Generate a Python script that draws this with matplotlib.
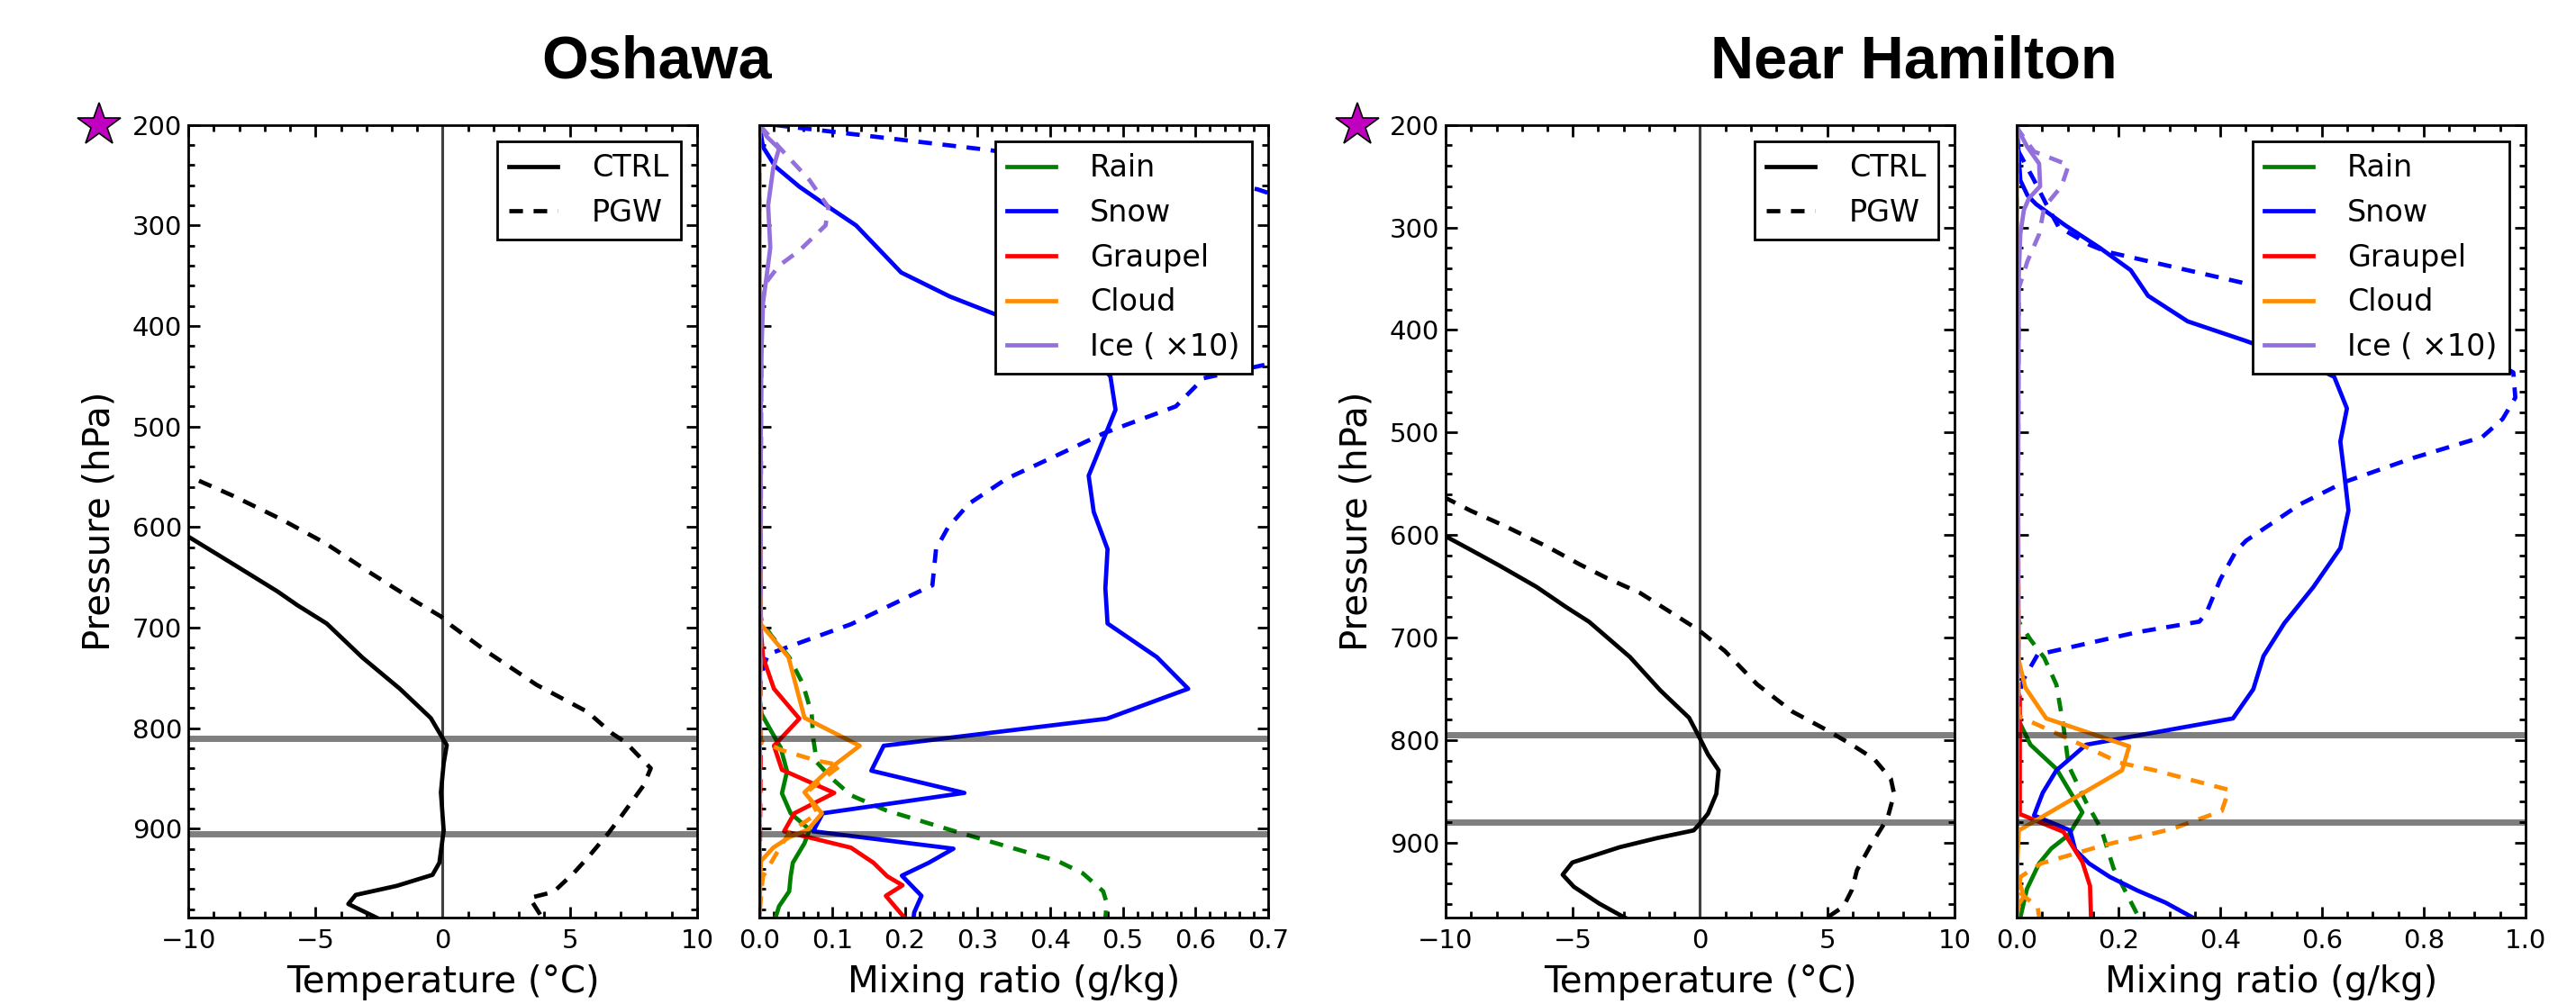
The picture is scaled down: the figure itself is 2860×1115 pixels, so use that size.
import matplotlib
matplotlib.use('Agg')
import matplotlib.pyplot as plt
from matplotlib.ticker import MultipleLocator

# ---------------- Oshawa ----------------
osh_ctrl_p = [560, 608, 639, 664, 678, 696, 730, 761, 790, 817, 835, 864, 902, 934, 946, 957, 966, 975, 988.5]
osh_ctrl_t = [-13.2, -10.1, -8.1, -6.5, -5.7, -4.56, -3.15, -1.68, -0.47, 0.16, 0.04, -0.07, 0.04, -0.13, -0.4, -1.81, -3.42, -3.71, -2.61]
osh_pgw_p = [554, 569, 592, 616, 645, 675, 689, 698, 723, 757, 784, 805, 814, 840, 857, 887, 905, 929, 944, 963, 969, 985, 988.5]
osh_pgw_t = [-9.58, -8.24, -6.37, -4.62, -2.88, -1.0, -0.07, 0.34, 1.68, 3.69, 5.7, 6.64, 7.18, 8.18, 7.9, 7.04, 6.5, 5.7, 5.16, 4.36, 3.42, 3.82, 3.9]
osh_layers = [810, 905]
osh_pmax = 988.5

# mixing ratios (g/kg); ice already multiplied by 10
osh_snow_ctrl_p = [200, 222, 241.5, 261.5, 283, 300, 346.8, 370.7, 386, 410, 430, 450.4, 483.3, 549, 585, 622, 661, 696,
                   729.5, 760.9, 790.7, 817.6, 842.4, 864.5, 884.8, 902.7, 920, 934, 946.8, 966.9, 983.3, 989]
osh_snow_ctrl = [0.0, 0.005, 0.022, 0.055, 0.098, 0.133, 0.195, 0.262, 0.316, 0.40, 0.46, 0.483, 0.49, 0.453, 0.46, 0.479,
                 0.476, 0.479, 0.547, 0.59, 0.478, 0.171, 0.154, 0.282, 0.087, 0.074, 0.267, 0.233, 0.196, 0.223, 0.213, 0.212]
osh_snow_pgw_p = [200, 225, 264, 275, 330, 380, 430, 452, 480, 498, 507, 529.5, 552, 577, 601, 622, 658, 662, 696.7,
                  717.6, 726.6, 740, 750.4, 760, 989]
osh_snow_pgw = [0.02, 0.316, 0.685, 0.73, 0.85, 0.9, 0.75, 0.611, 0.573, 0.506, 0.473, 0.407, 0.34, 0.288, 0.259, 0.243,
                0.238, 0.226, 0.126, 0.046, 0.012, 0.005, 0.003, 0.0, 0.0]
osh_rain_ctrl_p = [770, 786, 804, 819, 843, 865, 884.8, 901, 914.6, 934, 947.5, 962.4, 977.3, 989]
osh_rain_ctrl = [0.0, 0.003, 0.017, 0.029, 0.038, 0.031, 0.043, 0.069, 0.062, 0.046, 0.043, 0.041, 0.027, 0.022]
osh_rain_pgw_p = [680, 694, 708.6, 729.5, 756.4, 786.3, 810, 834, 849, 866.9, 881.8, 902.7, 917.6, 932.5, 944.5, 962.4, 974.3, 989]
osh_rain_pgw = [0.0, 0.003, 0.017, 0.041, 0.06, 0.072, 0.074, 0.079, 0.098, 0.126, 0.174, 0.269, 0.34, 0.411, 0.445, 0.473, 0.478, 0.476]
osh_grau_ctrl_p = [690, 702.7, 729.5, 760.9, 790.7, 817.6, 841.5, 864.5, 884.8, 902.7, 919, 934, 947.5, 956.4, 966.9, 989]
osh_grau_ctrl = [0.0, 0.002, 0.005, 0.02, 0.055, 0.02, 0.031, 0.103, 0.048, 0.034, 0.126, 0.157, 0.176, 0.197, 0.174, 0.2]
osh_grau_pgw_p = [200, 600, 800, 989]
osh_grau_pgw = [0.0, 0.001, 0.002, 0.0]
osh_cloud_ctrl_p = [200, 696.7, 729.5, 789.8, 817.6, 838.5, 863.9, 884.8, 901, 908.6, 919, 932.5, 989]
osh_cloud_ctrl = [0.0, 0.002, 0.04, 0.062, 0.138, 0.1, 0.062, 0.086, 0.067, 0.041, 0.019, 0.002, 0.0]
osh_cloud_pgw_p = [200, 813, 822, 832.5, 837, 847.4, 863.9, 884.8, 904, 926.5, 947.5, 959.4, 989]
osh_cloud_pgw = [0.0, 0.002, 0.031, 0.079, 0.112, 0.093, 0.065, 0.08, 0.041, 0.022, 0.005, 0.003, 0.0]
osh_ice_ctrl_p = [200, 211.6, 223.6, 243, 280, 322, 350, 377, 422, 482, 989]
osh_ice_ctrl = [0.0, 0.01, 0.027, 0.019, 0.012, 0.015, 0.01, 0.005, 0.003, 0.002, 0.0]
osh_ice_pgw_p = [200, 222, 255, 282, 300, 325, 340, 356, 377, 989]
osh_ice_pgw = [0.0, 0.027, 0.069, 0.095, 0.091, 0.055, 0.027, 0.01, 0.003, 0.0]

# ---------------- Near Hamilton ----------------
ham_ctrl_p = [580, 601.5, 613.4, 629.7, 650.5, 669.8, 684.6, 718.8, 751.5, 778.2, 799, 813.8, 829.3, 852.4, 871.8, 882.1,
              888, 895.5, 904.4, 919.3, 931.2, 943, 959.4, 971.3, 975]
ham_ctrl_t = [-12.5, -9.98, -9.09, -7.89, -6.43, -5.29, -4.36, -2.76, -1.56, -0.43, 0.01, 0.31, 0.73, 0.64, 0.31, -0.03,
              -0.25, -1.69, -3.16, -5.02, -5.4, -4.96, -3.96, -3.09, -2.8]
ham_pgw_p = [555, 564.4, 576.2, 591, 611.9, 628.2, 641.6, 656.4, 677.2, 692, 712.9, 745.5, 772.3, 790, 803.4, 818.3,
             837.6, 852.4, 876.2, 903, 926.7, 946, 962.3, 971.3, 975]
ham_pgw_t = [-11.0, -9.95, -9.02, -7.69, -5.96, -4.76, -3.69, -2.36, -1.03, -0.09, 0.97, 2.24, 3.64, 4.97, 5.9, 6.84,
             7.5, 7.63, 7.37, 6.7, 6.17, 5.97, 5.64, 5.1, 4.8]
ham_layers = [795, 880]
ham_pmax = 973

ham_snow_ctrl_p = [200, 230.5, 254, 268.6, 277.3, 297.8, 319.8, 341.7, 366.6, 391.6, 410.6, 425, 440, 445.7, 476.5,
                   508.8, 541, 576, 612.7, 650.7, 685.9, 718, 750.3, 778.8, 804.5, 819.2, 829.4, 851.4, 873.4, 888,
                   907, 920.2, 933.4, 946.6, 958.3, 973]
ham_snow_ctrl = [0.0, 0.004, 0.007, 0.021, 0.038, 0.095, 0.163, 0.224, 0.258, 0.336, 0.45, 0.53, 0.6, 0.624, 0.649,
                 0.636, 0.644, 0.652, 0.636, 0.583, 0.526, 0.485, 0.465, 0.425, 0.136, 0.102, 0.078, 0.051, 0.034, 0.105,
                 0.115, 0.142, 0.183, 0.237, 0.292, 0.346]
ham_snow_pgw_p = [224.6, 253.9, 277.3, 299.3, 316.9, 323.6, 353.5, 390, 420, 441.4, 466, 486.8, 504.4, 524.8, 548.3,
                  570.2, 590.7, 605.4, 615.6, 643.4, 675.6, 684.4, 694.7, 716.6, 740, 754.7, 765, 973]
ham_snow_pgw = [0.002, 0.034, 0.058, 0.082, 0.143, 0.176, 0.44, 0.7, 0.9, 0.976, 0.98, 0.955, 0.915, 0.779, 0.644,
                0.556, 0.495, 0.451, 0.431, 0.4, 0.373, 0.359, 0.237, 0.041, 0.014, 0.004, 0.0, 0.0]
ham_rain_ctrl_p = [770, 781, 804.5, 828, 870.4, 892.4, 905.6, 920.2, 945.1, 973]
ham_rain_ctrl = [0.0, 0.004, 0.027, 0.078, 0.129, 0.102, 0.068, 0.044, 0.02, 0.007]
ham_rain_pgw_p = [675, 684.4, 702, 719.6, 746, 787, 825, 860.2, 886.5, 924.6, 970, 973]
ham_rain_pgw = [0.0, 0.004, 0.027, 0.054, 0.078, 0.092, 0.102, 0.136, 0.166, 0.19, 0.237, 0.24]
ham_grau_ctrl_p = [750, 757.6, 804.5, 872, 889.5, 918.8, 942.2, 973]
ham_grau_ctrl = [0.0, 0.006, 0.006, 0.006, 0.092, 0.129, 0.144, 0.146]
ham_grau_pgw_p = [200, 600, 850, 973]
ham_grau_pgw = [0.0, 0.001, 0.002, 0.0]
ham_cloud_ctrl_p = [200, 722.5, 748.9, 778.8, 806, 829.4, 888, 930, 952.4, 960, 973]
ham_cloud_ctrl = [0.0, 0.004, 0.017, 0.058, 0.221, 0.207, 0.004, 0.0, 0.014, 0.004, 0.0]
ham_cloud_pgw_p = [200, 776.7, 798.7, 822.1, 829.4, 848.5, 869, 886.6, 902.7, 920.2, 933.4, 948, 962.7, 973]
ham_cloud_pgw = [0.0, 0.004, 0.102, 0.203, 0.271, 0.417, 0.403, 0.305, 0.169, 0.048, 0.007, 0.004, 0.041, 0.044]
ham_ice_ctrl_p = [200, 204, 221.7, 237.8, 259.8, 271.5, 283, 306.5, 347.6, 973]
ham_ice_ctrl = [0.0, 0.002, 0.021, 0.044, 0.046, 0.024, 0.014, 0.007, 0.004, 0.0]
ham_ice_pgw_p = [200, 204, 226, 239.2, 259.8, 280.3, 306.6, 333, 359.4, 973]
ham_ice_pgw = [0.0, 0.002, 0.034, 0.102, 0.088, 0.054, 0.044, 0.021, 0.004, 0.0]

species = ['Rain', 'Snow', 'Graupel', 'Cloud', 'Ice ( ×10)']
colors = ['g', 'b', 'r', 'darkorange', 'mediumpurple']

plt.rcParams['font.family'] = 'DejaVu Sans'
plt.rcParams['axes.linewidth'] = 1.0
LW = 1.7
DASH = (0, (3.2, 2.5))


def style_axes(ax, xmajor, xminor, pmax, ylabels=True):
    ax.set_ylim(pmax, 200)
    ax.xaxis.set_major_locator(MultipleLocator(xmajor))
    ax.xaxis.set_minor_locator(MultipleLocator(xminor))
    ax.yaxis.set_major_locator(MultipleLocator(100))
    ax.yaxis.set_minor_locator(MultipleLocator(20))
    ax.tick_params(which='both', direction='in', top=True, right=True, width=1.0, labelsize=10.5)
    ax.tick_params(which='major', length=4.5)
    ax.tick_params(which='minor', length=2.5)
    ax.tick_params(axis='x', pad=4.5)
    ax.tick_params(axis='y', pad=2.5, labelleft=ylabels)


def legend(ax, loc='upper right'):
    leg = ax.legend(loc=loc, fontsize=12, fancybox=False, framealpha=1, edgecolor='k',
                    handlelength=1.6, handletextpad=1.15, borderpad=0.4, labelspacing=0.5,
                    borderaxespad=0.55)
    leg.get_frame().set_linewidth(1.0)


def temp_panel(ax, ctrl_p, ctrl_t, pgw_p, pgw_t, layers, pmax):
    ax.axvline(0, color='0.25', lw=1.1)
    ax.plot(ctrl_t, ctrl_p, color='k', lw=LW, label='CTRL')
    ax.plot(pgw_t, pgw_p, color='k', lw=LW, ls=DASH, label='PGW')
    for p in layers:
        ax.axhline(p, color='k', alpha=0.5, lw=2.5)
    ax.set_xlim(-10, 10)
    style_axes(ax, 5, 1, pmax)
    ax.set_xlabel('Temperature (°C)', fontsize=14.5)
    ax.set_ylabel('Pressure (hPa)', fontsize=14.5, labelpad=6)
    legend(ax)


def mix_panel(ax, ctrl, pgw, layers, pmax, xmax, xmajor, xminor):
    for (cp, cq), (gp, gq), name, c in zip(ctrl, pgw, species, colors):
        ax.plot(cq, cp, color=c, lw=LW, label=name)
        ax.plot(gq, gp, color=c, lw=LW, ls=DASH)
    for p in layers:
        ax.axhline(p, color='k', alpha=0.5, lw=2.5)
    ax.set_xlim(0, xmax)
    style_axes(ax, xmajor, xminor, pmax, ylabels=False)
    ax.set_xlabel('Mixing ratio (g/kg)', fontsize=14.5)
    legend(ax)


fig = plt.figure(figsize=(14.3, 5.575), dpi=200)
bot, hgt, wid = 0.0861, 0.7895, 0.1975
ax1 = fig.add_axes([0.0731, bot, wid, hgt])
ax2 = fig.add_axes([0.2948, bot, wid, hgt])
ax3 = fig.add_axes([0.5612, bot, wid, hgt])
ax4 = fig.add_axes([0.7829, bot, wid, hgt])

temp_panel(ax1, osh_ctrl_p, osh_ctrl_t, osh_pgw_p, osh_pgw_t, osh_layers, osh_pmax)
mix_panel(ax2,
          [(osh_rain_ctrl_p, osh_rain_ctrl), (osh_snow_ctrl_p, osh_snow_ctrl), (osh_grau_ctrl_p, osh_grau_ctrl),
           (osh_cloud_ctrl_p, osh_cloud_ctrl), (osh_ice_ctrl_p, osh_ice_ctrl)],
          [(osh_rain_pgw_p, osh_rain_pgw), (osh_snow_pgw_p, osh_snow_pgw), (osh_grau_pgw_p, osh_grau_pgw),
           (osh_cloud_pgw_p, osh_cloud_pgw), (osh_ice_pgw_p, osh_ice_pgw)],
          osh_layers, osh_pmax, 0.7, 0.1, 0.02)

temp_panel(ax3, ham_ctrl_p, ham_ctrl_t, ham_pgw_p, ham_pgw_t, ham_layers, ham_pmax)
mix_panel(ax4,
          [(ham_rain_ctrl_p, ham_rain_ctrl), (ham_snow_ctrl_p, ham_snow_ctrl), (ham_grau_ctrl_p, ham_grau_ctrl),
           (ham_cloud_ctrl_p, ham_cloud_ctrl), (ham_ice_ctrl_p, ham_ice_ctrl)],
          [(ham_rain_pgw_p, ham_rain_pgw), (ham_snow_pgw_p, ham_snow_pgw), (ham_grau_pgw_p, ham_grau_pgw),
           (ham_cloud_pgw_p, ham_cloud_pgw), (ham_ice_pgw_p, ham_ice_pgw)],
          ham_layers, ham_pmax, 1.0, 0.2, 0.05)

# titles and star markers
fig.text(0.255, 0.922, 'Oshawa', ha='center', va='baseline', fontsize=24,
         fontweight='bold', family=['Liberation Sans Narrow', 'Liberation Sans'])
fig.text(0.743, 0.922, 'Near Hamilton', ha='center', va='baseline', fontsize=24,
         fontweight='bold', family=['Liberation Sans Narrow', 'Liberation Sans'])
for xs in [0.0385, 0.5268]:
    fig.lines.append(plt.Line2D([xs], [0.8749], marker='*', ms=17.8, color='#BF00BF',
                                markeredgecolor='k', markeredgewidth=0.6, transform=fig.transFigure))

fig.savefig('out.png', dpi=200)
